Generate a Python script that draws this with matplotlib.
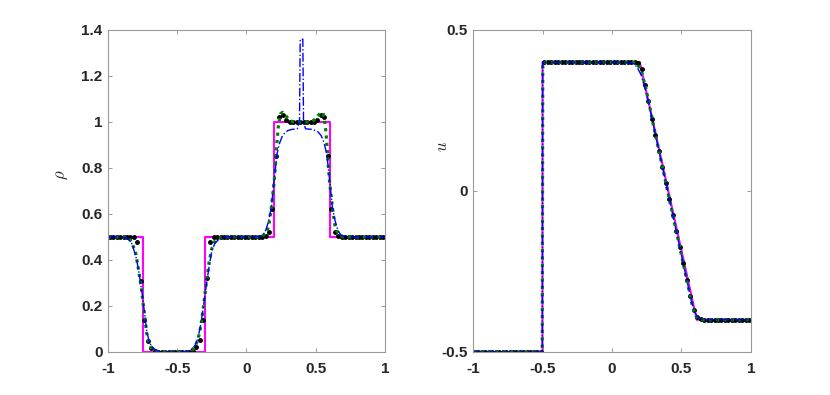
import numpy as np
import matplotlib
matplotlib.use("Agg")
import matplotlib.pyplot as plt

plt.rcParams['font.family'] = ['Liberation Sans', 'DejaVu Sans']
plt.rcParams['mathtext.fontset'] = 'cm'

# cell centres of the 80-cell scheme (black dots)
xc = np.linspace(-0.9875, 0.9875, 80)

rho_dots = ([0.5] * 8
            + [0.478, 0.31, 0.14, 0.048, 0.018, 0.006]
            + [0.0] * 10 + [0.004]
            + [0.02, 0.05, 0.14, 0.32, 0.48, 0.498]
            + [0.5] * 14
            + [0.505, 0.52, 0.62, 0.85, 1.02, 1.03, 1.01]
            + [1.0] * 8
            + [1.01, 1.03, 1.02, 0.85, 0.62, 0.52, 0.505]
            + [0.5] * 13)

u_dots = ([-0.5] * 20
          + [0.4] * 27
          + [0.398, 0.38, 0.33, 0.28, 0.225, 0.175, 0.125, 0.075, 0.025,
             -0.025, -0.075, -0.125, -0.175, -0.225, -0.275, -0.325,
             -0.37, -0.392, -0.399]
          + [-0.4] * 14)

# exact solution (magenta)
rho_exact_x = [-1, -0.75, -0.75, -0.3, -0.3, 0.2, 0.2, 0.6, 0.6, 1]
rho_exact = [0.5, 0.5, 0, 0, 0.5, 0.5, 1, 1, 0.5, 0.5]
u_exact_x = [-1, -0.5, -0.5, 0.2, 0.61, 1]
u_exact = [-0.5, -0.5, 0.4, 0.4, -0.4, -0.4]

# blue dash-dot scheme
rho_blue = [(-1, 0.5), (-0.9, 0.5), (-0.86, 0.495), (-0.83, 0.475), (-0.8, 0.42),
            (-0.78, 0.36), (-0.76, 0.28), (-0.75, 0.24), (-0.74, 0.19), (-0.72, 0.09),
            (-0.7, 0.04), (-0.68, 0.02), (-0.65, 0.007), (-0.62, 0.002), (-0.6, 0),
            (-0.45, 0), (-0.42, 0.004), (-0.39, 0.015), (-0.37, 0.03), (-0.35, 0.06),
            (-0.33, 0.12), (-0.31, 0.2), (-0.29, 0.29), (-0.27, 0.37), (-0.25, 0.44),
            (-0.23, 0.47), (-0.2, 0.49), (-0.17, 0.5), (0.05, 0.5), (0.1, 0.503),
            (0.12, 0.51), (0.14, 0.53), (0.16, 0.57), (0.18, 0.63), (0.2, 0.75),
            (0.22, 0.86), (0.24, 0.91), (0.26, 0.94), (0.28, 0.955), (0.3, 0.963),
            (0.33, 0.968), (0.365, 0.97), (0.372, 0.975), (0.375, 0.99), (0.383, 1.0),
            (0.388, 1.36), (0.407, 1.36), (0.412, 1.0), (0.42, 0.99), (0.423, 0.975),
            (0.43, 0.97), (0.47, 0.968), (0.5, 0.963), (0.52, 0.955), (0.54, 0.94),
            (0.56, 0.91), (0.58, 0.86), (0.6, 0.75), (0.62, 0.63), (0.64, 0.57),
            (0.66, 0.53), (0.68, 0.51), (0.7, 0.503), (0.75, 0.5), (1, 0.5)]

u_blue = [(-1, -0.5), (-0.502, -0.5), (-0.498, 0.4), (0.12, 0.4), (0.15, 0.397),
          (0.18, 0.385), (0.21, 0.36), (0.24, 0.315), (0.27, 0.26), (0.3, 0.2),
          (0.55, -0.3), (0.57, -0.34), (0.59, -0.37), (0.61, -0.388), (0.63, -0.397),
          (0.66, -0.4), (1, -0.4)]

# green dotted scheme
rho_green = [(-1, 0.5), (-0.86, 0.5), (-0.83, 0.48), (-0.8, 0.43), (-0.78, 0.36),
             (-0.76, 0.28), (-0.75, 0.23), (-0.74, 0.18), (-0.72, 0.08), (-0.7, 0.03),
             (-0.68, 0.012), (-0.65, 0.003), (-0.62, 0), (-0.42, 0), (-0.39, 0.01),
             (-0.37, 0.025), (-0.35, 0.055), (-0.33, 0.11), (-0.31, 0.2), (-0.29, 0.3),
             (-0.27, 0.39), (-0.25, 0.45), (-0.23, 0.48), (-0.2, 0.495), (-0.17, 0.5),
             (0.1, 0.5), (0.14, 0.515), (0.16, 0.545), (0.18, 0.63), (0.2, 0.74),
             (0.21, 0.82), (0.22, 0.91), (0.23, 0.98), (0.245, 1.035), (0.26, 1.042),
             (0.28, 1.03), (0.3, 1.015), (0.32, 1.005), (0.34, 1.0), (0.46, 1.0),
             (0.48, 1.005), (0.5, 1.015), (0.52, 1.03), (0.54, 1.042), (0.555, 1.035),
             (0.57, 0.98), (0.58, 0.91), (0.59, 0.82), (0.6, 0.74), (0.62, 0.63),
             (0.64, 0.545), (0.66, 0.515), (0.7, 0.5), (1, 0.5)]

u_green = [(-1, -0.5), (-0.502, -0.5), (-0.498, 0.4), (0.15, 0.4), (0.18, 0.395),
           (0.21, 0.375), (0.24, 0.325), (0.27, 0.265), (0.3, 0.2), (0.56, -0.32),
           (0.58, -0.36), (0.6, -0.385), (0.62, -0.397), (0.65, -0.4), (1, -0.4)]

xticks = [-1, -0.5, 0, 0.5, 1]
xticklabels = ['-1', '-0.5', '0', '0.5', '1']
rho_ticks = [0, 0.2, 0.4, 0.6, 0.8, 1.0, 1.2, 1.4]
rho_ticklabels = ['0', '0.2', '0.4', '0.6', '0.8', '1', '1.2', '1.4']
u_ticks = [-0.5, 0, 0.5]
u_ticklabels = ['-0.5', '0', '0.5']

fig = plt.figure(figsize=(8.3, 3.95), dpi=100)
ax1 = fig.add_axes([0.1301, 0.1089, 0.3337, 0.8152])
ax2 = fig.add_axes([0.5699, 0.1089, 0.3349, 0.8152])


def draw(ax, ex_x, ex_y, dots, blue, green):
    ax.plot(ex_x, ex_y, color='#ff00ff', lw=1.5)
    ax.plot(xc, dots, ls='none', marker='o', ms=2.5, color='black')
    gx, gy = zip(*green)
    ax.plot(gx, gy, color='#008000', lw=2.3, ls=(0, (1, 1.3)))
    bx, by = zip(*blue)
    ax.plot(bx, by, color='#0000ff', lw=1.0, ls='-.')


draw(ax1, rho_exact_x, rho_exact, rho_dots, rho_blue, rho_green)
draw(ax2, u_exact_x, u_exact, u_dots, u_blue, u_green)

ax1.set_ylim(0, 1.4)
ax1.set_yticks(rho_ticks)
ax1.set_yticklabels(rho_ticklabels)
ax2.set_ylim(-0.5, 0.5)
ax2.set_yticks(u_ticks)
ax2.set_yticklabels(u_ticklabels)

for ax in (ax1, ax2):
    ax.set_xlim(-1, 1)
    ax.set_xticks(xticks)
    ax.set_xticklabels(xticklabels)
    ax.tick_params(direction='in', length=3, width=0.6, color='0.55',
                   top=True, right=True, labelsize=11, labelcolor='#262626', pad=4)
    ax.tick_params(axis='x', pad=7)
    for lab in ax.get_xticklabels() + ax.get_yticklabels():
        lab.set_fontweight('bold')
    for s in ax.spines.values():
        s.set_color('0.6')
        s.set_linewidth(0.8)

ax1.set_ylabel(r'$\rho$', fontsize=12, color='#262626')
ax1.yaxis.set_label_coords(-0.137, 0.55)
ax2.set_ylabel(r'$u$', fontsize=12, color='#262626')
ax2.yaxis.set_label_coords(-0.083, 0.637)

plt.savefig('out.png', dpi=100)
